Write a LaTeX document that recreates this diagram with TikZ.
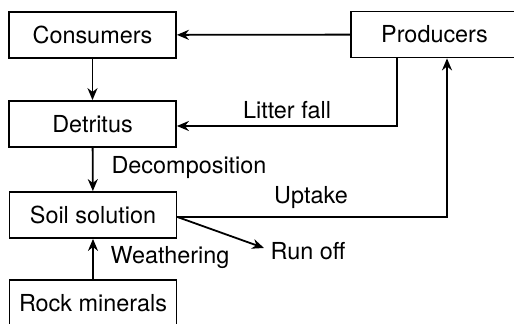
\documentclass[tikz,border=0pt]{standalone}
\usepackage{fontspec}
\setmainfont{TeX Gyre Heros}
\usetikzlibrary{arrows.meta}
\begin{document}
\begin{tikzpicture}[x=0.5pt,y=-0.5pt,line width=0.9pt,
		every node/.style={font=\fontsize{11.7}{14}\selectfont},
		box/.style={draw,minimum width=83.5pt,minimum height=23pt,inner sep=0pt},
		>={Stealth[length=6pt,width=5pt]}]
		\useasboundingbox (0,0) rectangle (514,324);
		
		\node[box] at (92.5,35) (c) {Consumers};
		\node[box] at (434.5,34.5) (p) {Producers};
		\node[box] at (92.5,124) (d) {Detritus};
		\node[box] at (93,215) (s) {Soil solution};
		\node[box] at (93,303) (r) {Rock minerals};
		
		\node at (287,110) (lf) {Litter fall};
		\node at (189,168) (dc) {Decomposition};
		\node at (311,198) (up) {Uptake};
		\node at (308,251) (ro) {Run off};
		\node at (170,258) (we) {Weathering};
		
		\coordinate (drop) at (397,126);
		\coordinate (rise) at (447,217);
		\coordinate (out) at (264,248);
		
		\draw[->] (p) -- (c);
		\draw[->] (c) -- (d);
		\draw[->] (drop |- p.south) |- (d.east |- drop);
		\draw[->] (d) -- (s);
		\draw[->] (s.east |- rise) -| (p.south -| rise);
		\draw[->] (s.east |- rise) -- (out);
		\draw[->] (r) -- (s);
	\end{tikzpicture}
\end{document}
